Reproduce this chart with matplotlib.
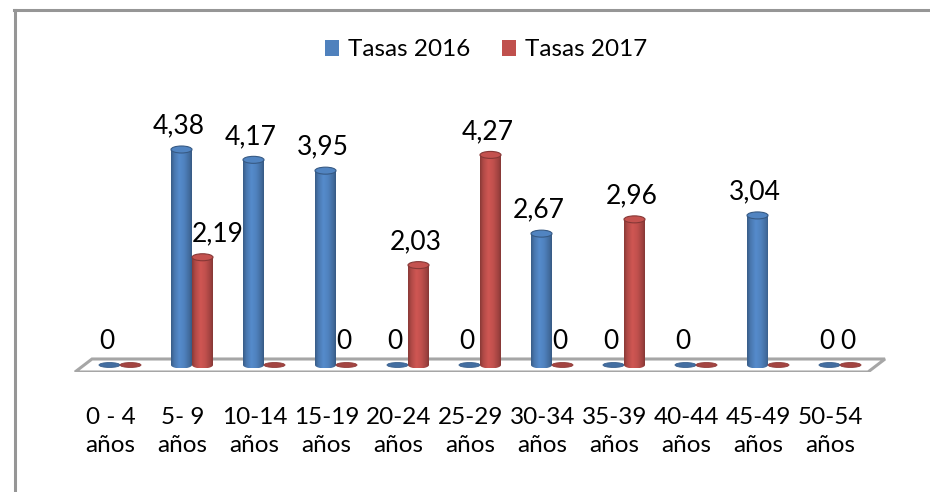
import numpy as np
import matplotlib
matplotlib.use("Agg")
import matplotlib.pyplot as plt
from matplotlib.patches import Ellipse, Polygon, Patch
from matplotlib.lines import Line2D
from matplotlib.colors import to_rgb

plt.rcParams['font.family'] = ['Lato', 'DejaVu Sans']

categories = ["0 - 4\naños", "5- 9\naños", "10-14\naños", "15-19\naños",
              "20-24\naños", "25-29\naños", "30-34\naños", "35-39\naños",
              "40-44\naños", "45-49\naños", "50-54\naños"]
tasas_2016 = [0, 4.38, 4.17, 3.95, 0, 0, 2.67, 0, 0, 3.04, 0]
tasas_2017 = [0, 2.19, 0, 0, 2.03, 4.27, 0, 2.96, 0, 0, 0]
series_names = ["Tasas 2016", "Tasas 2017"]

# labels Excel dropped because they collided
hidden_2017 = [0, 2, 8, 9]

BLUE = "#4F81BD"
RED = "#C0504D"
W, H = 930, 492

fig = plt.figure(figsize=(W / 100, H / 100), dpi=100)
# axes box in pixels: x 60..900, rows 100..372
ax = fig.add_axes([60 / W, (H - 372) / H, 840 / W, 272 / H])
PX_X, PX_Y = 72.0, 49.2          # pixels per data unit
xlim = ((60 - 120) / PX_X, (900 - 120) / PX_X)
ylim = ((365 - 372) / PX_Y, (365 - 100) / PX_Y)

bw = 21 / PX_X                   # cylinder width
eh = 7 / PX_Y                    # height of end ellipses
off = 10.5 / PX_X


def grad(color):
    c = np.array(to_rgb(color))
    f = np.interp(np.linspace(0, 1, 40), [0, 0.15, 0.4, 0.65, 0.9, 1],
                  [0.72, 0.92, 1.08, 1.0, 0.82, 0.7])
    return np.clip(c[None, None, :] * f[None, :, None], 0, 1)


# floor
floor = Polygon([((75 - 120) / PX_X, (365 - 372) / PX_Y),
                 ((868 - 120) / PX_X, (365 - 372) / PX_Y),
                 ((885 - 120) / PX_X, (365 - 359) / PX_Y),
                 ((92 - 120) / PX_X, (365 - 359) / PX_Y)],
                closed=True, facecolor="white", edgecolor="#A6A6A6", lw=2.2, zorder=1)
ax.add_patch(floor)

x = np.arange(len(categories))
for vals, color, dx in [(tasas_2016, BLUE, -off), (tasas_2017, RED, off)]:
    c = np.array(to_rgb(color))
    for xi, v in zip(x + dx, vals):
        x0, x1 = xi - bw / 2, xi + bw / 2
        if v > 0:
            t = np.linspace(np.pi, 2 * np.pi, 30)
            bottom = np.column_stack([xi + bw / 2 * np.cos(t), eh / 2 * np.sin(t)])
            verts = np.vstack([[x0, v], bottom, [x1, v]])
            clip = Polygon(verts, closed=True, transform=ax.transData)
            im = ax.imshow(grad(color), extent=[x0, x1, -eh / 2, v], aspect="auto",
                           interpolation="bilinear", zorder=3)
            im.set_clip_path(clip)
            ax.add_patch(Ellipse((xi, v), bw, eh, facecolor=np.clip(c * 1.02, 0, 1),
                                 edgecolor=c * 0.7, lw=0.8, zorder=4))
        else:
            ax.add_patch(Ellipse((xi, 0), bw, eh * 0.7, facecolor=c * 0.85,
                                 edgecolor=c * 0.75, lw=0.6, zorder=3))

# data labels
for vals, dx, hidden in [(tasas_2016, -off, []), (tasas_2017, off, hidden_2017)]:
    for i, v in enumerate(vals):
        if i in hidden:
            continue
        txt = "0" if v == 0 else f"{v:.2f}".replace(".", ",")
        shift = -3
        if v > 0 and dx > 0 and tasas_2016[i] > 0:
            shift = 15
        ax.annotate(txt, (x[i] + dx, v), xytext=(shift * 0.72, 16 * 0.72),
                    textcoords="offset points", ha="center", va="baseline",
                    fontsize=19, zorder=5)

ax.set_xlim(*xlim)
ax.set_ylim(*ylim)
ax.set_xticks(x - 0.13, categories, fontsize=17.5, linespacing=1.45)
ax.tick_params(axis="x", length=0, pad=25)
ax.set_yticks([])
for s in ax.spines.values():
    s.set_visible(False)
ax.patch.set_alpha(0)

handles = [Patch(facecolor=BLUE), Patch(facecolor=RED)]
fig.legend(handles, series_names, loc="center", bbox_to_anchor=(486 / W, 1 - 50 / H),
           ncol=2, frameon=False, fontsize=17.5, handlelength=0.6, handleheight=0.6,
           handletextpad=0.35, columnspacing=1.3)

# chart border (only left and top edges visible in the crop)
fig.add_artist(Line2D([15 / W, 15 / W], [0, 1 - 10 / H], color="#969696", lw=2.2))
fig.add_artist(Line2D([14 / W, 1], [1 - 10 / H, 1 - 10 / H], color="#969696", lw=2.2))

fig.savefig("out.png", dpi=100)
